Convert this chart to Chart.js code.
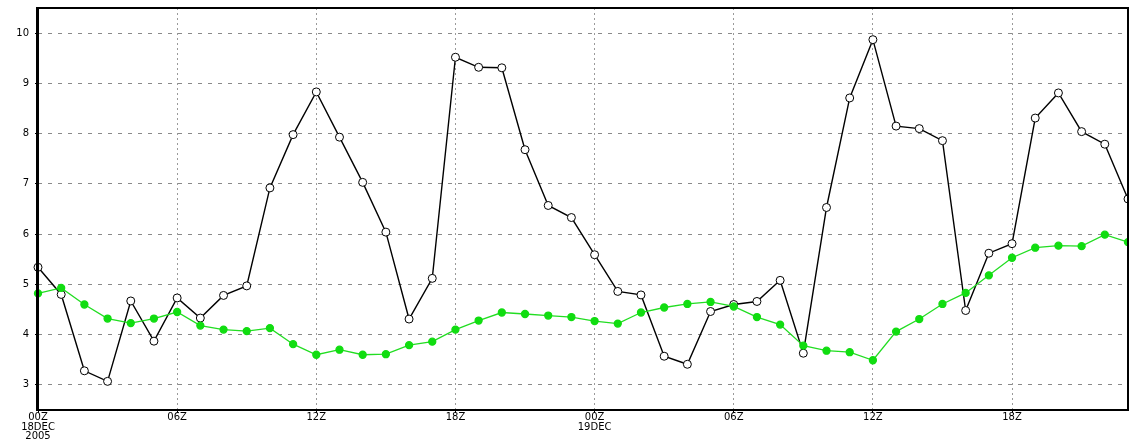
<!DOCTYPE html>
<html>
<head>
<meta charset="utf-8">
<script src="https://cdn.jsdelivr.net/npm/chart.js@4"></script>
<style>
  html, body { margin: 0; padding: 0; background: #fff; overflow: hidden; }
  #wrap { width: 1129px; height: 440px; }
  canvas { display: block; }
</style>
</head>
<body>
<div id="wrap"><canvas id="windChart" width="1129" height="440"></canvas></div>
<script>
// hours since 00Z 18DEC2005
const hours = Array.from({ length: 48 }, (_, i) => i)

const blackValues = [5.34, 4.8, 3.28, 3.07, 4.67, 3.87, 4.73, 4.33, 4.78, 4.97,
  6.92, 7.98, 8.83, 7.93, 7.03, 6.04, 4.31, 5.12, 9.52, 9.32,
  9.31, 7.68, 6.57, 6.33, 5.59, 4.86, 4.79, 3.57, 3.41, 4.46,
  4.6, 4.66, 5.08, 3.63, 6.53, 8.71, 9.87, 8.15, 8.1, 7.86,
  4.48, 5.62, 5.81, 8.31, 8.81, 8.04, 7.79, 6.7]

const greenValues = [4.82, 4.93, 4.6, 4.32, 4.23, 4.32, 4.45, 4.18, 4.1, 4.07,
  4.13, 3.81, 3.6, 3.7, 3.6, 3.61, 3.79, 3.86, 4.1, 4.28,
  4.44, 4.41, 4.38, 4.35, 4.27, 4.22, 4.44, 4.54, 4.61, 4.65,
  4.56, 4.35, 4.2, 3.78, 3.68, 3.65, 3.49, 4.06, 4.31, 4.61,
  4.83, 5.18, 5.53, 5.73, 5.77, 5.76, 5.99, 5.84]

const tickHours = [0, 6, 12, 18, 24, 30, 36, 42]
const tickLabels = [['00Z', '18DEC', '2005'], '06Z', '12Z', '18Z', ['00Z', '19DEC'], '06Z', '12Z', '18Z']
const yTicks = [3, 4, 5, 6, 7, 8, 9, 10]

const toPoints = vals => hours.map((h, i) => ({ x: h, y: vals[i] }))

// black frame round the plot area
const framePlugin = {
  id: 'frame',
  afterDraw(chart) {
    const { ctx, chartArea: a } = chart
    ctx.save()
    ctx.strokeStyle = '#000'
    ctx.lineWidth = 2
    ctx.strokeRect(a.left, a.top, a.right - a.left, a.bottom - a.top)
    ctx.fillStyle = '#000'
    ctx.fillRect(a.left - 2, a.top - 1, 2, a.bottom - a.top + 2)
    ctx.restore()
  }
}

const ctx = document.getElementById('windChart').getContext('2d')
const windChart = new Chart(ctx, {
  type: 'line',
  data: {
    datasets: [{
      label: 'green',
      data: toPoints(greenValues),
      borderColor: '#22dd22',
      borderWidth: 1.3,
      backgroundColor: '#11dd11',
      pointBackgroundColor: '#11dd11',
      pointBorderColor: '#11dd11',
      pointRadius: 3.5,
      tension: 0
    }, {
      label: 'black',
      data: toPoints(blackValues),
      borderColor: '#000',
      borderWidth: 1.4,
      backgroundColor: '#fff',
      pointBackgroundColor: '#fff',
      pointBorderColor: '#000',
      pointBorderWidth: 1,
      pointRadius: 4,
      tension: 0
    }]
  },
  options: {
    responsive: false,
    animation: false,
    clip: false,
    layout: { autoPadding: false, padding: { top: 8, right: 1, left: 0, bottom: 0 } },
    plugins: {
      legend: { display: false },
      tooltip: { enabled: false }
    },
    scales: {
      x: {
        type: 'linear',
        min: 0,
        max: 47,
        afterBuildTicks: scale => { scale.ticks = tickHours.map(v => ({ value: v })) },
        afterFit: scale => {
          scale.height = 30
          scale.paddingLeft = 0
          scale.paddingRight = 0
        },
        ticks: {
          color: '#000',
          padding: 0,
          maxRotation: 0,
          autoSkip: false,
          font: { family: 'DejaVu Sans', size: 10, lineHeight: 0.95 },
          callback: v => tickLabels[tickHours.indexOf(v)]
        },
        grid: {
          color: ctx => ctx.tick && ctx.tick.value === 0 ? 'rgba(0,0,0,0)' : '#9a9a9a',
          lineWidth: 1,
          drawTicks: true,
          tickLength: 3,
          tickColor: '#000'
        },
        border: { display: false, dash: [2, 3] }
      },
      y: {
        min: 2.5,
        max: 10.5,
        afterBuildTicks: scale => { scale.ticks = yTicks.map(v => ({ value: v })) },
        afterFit: scale => {
          scale.width = 38
          scale.paddingTop = 0
          scale.paddingBottom = 0
        },
        ticks: {
          color: '#000',
          padding: 6,
          font: { family: 'DejaVu Sans', size: 10 }
        },
        grid: {
          color: '#8a8a8a',
          lineWidth: 1,
          tickLength: 3,
          tickColor: '#000'
        },
        border: { display: false, dash: [4, 6] }
      }
    }
  },
  plugins: [framePlugin]
})
</script>
</body>
</html>
